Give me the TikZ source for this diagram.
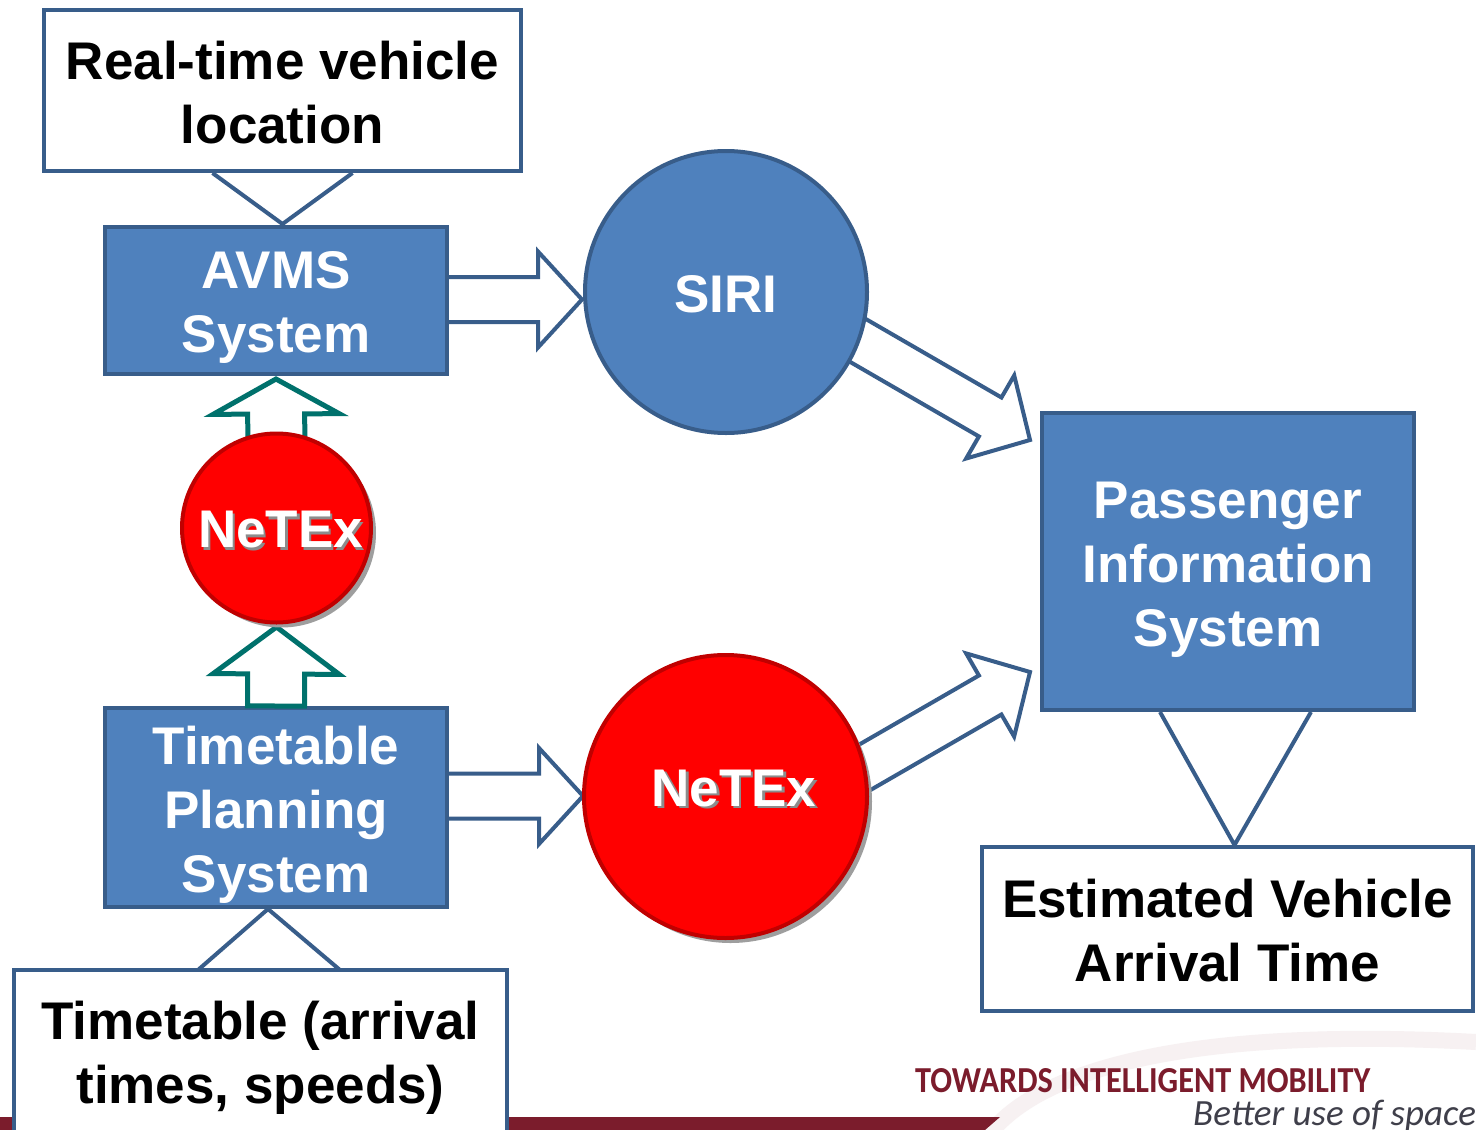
\documentclass[tikz,border=0pt]{standalone}
\usepackage{fontspec}
\setmainfont{Liberation Sans}
\newfontfamily\logofont{Carlito}
\usetikzlibrary{calc,shadows}
\definecolor{boxblue}{HTML}{4F81BD}
\definecolor{edgeblue}{HTML}{385D8A}
\definecolor{netred}{HTML}{FF0000}
\definecolor{netedge}{HTML}{C00000}
\definecolor{tealc}{HTML}{00716C}
\definecolor{logored}{HTML}{7B1C2C}
\definecolor{logogray}{HTML}{3F3F4A}
% style, from, to, half shaft, half head, head length
\newcommand{\blockarrow}[6]{%
  \coordinate (bah) at ($(#3)!#6!(#2)$);
  \draw[#1] ($(#2)!#4!90:(#3)$) -- ($(bah)!#4!90:(#3)$) -- ($(bah)!#5!90:(#3)$) -- (#3)
    -- ($(bah)!#5!-90:(#3)$) -- ($(bah)!#4!-90:(#3)$) -- ($(#2)!#4!-90:(#3)$) -- cycle;}
\tikzset{
  bluebox/.style={draw=edgeblue, fill=boxblue, line width=4pt, inner sep=0, rectangle},
  whitebox/.style={draw=edgeblue, fill=white, line width=4pt, inner sep=0, rectangle},
  txt/.style={font=\bfseries\fontsize{53}{64}\selectfont, align=center, inner sep=0},
  wtxt/.style={txt, text=white},
  btxt/.style={txt, text=black},
  shtxt/.style={txt, text=black!45},
  sirinode/.style={circle, draw=edgeblue, fill=boxblue, line width=4pt, inner sep=0},
  netnode/.style={circle, draw=netedge, fill=netred, line width=4pt, inner sep=0,
    drop shadow={shadow xshift=5pt, shadow yshift=-5pt, fill=black!38, opacity=1}},
  bluearrow/.style={draw=edgeblue, fill=white, line width=4pt, line join=miter},
  tealarrow/.style={draw=tealc, fill=white, line width=5pt, line join=miter},
  calloutline/.style={draw=edgeblue, line width=4pt},
}
\begin{document}
\begin{tikzpicture}[x=1pt, y=-1pt]
\useasboundingbox (0,0) rectangle (1476,1130);
\fill[white] (0,0) rectangle (1476,1130);
% faint logo arc in the background
\draw[line width=16pt, color=logored!6] (985,1140) .. controls (1040,1060) and (1220,1028) .. (1476,1042);
% bottom band
\fill[logored] (0,1117) -- (1000,1117) -- (985,1130) -- (0,1130) -- cycle;

% nodes (boxes and circles), placed first so that connectors can refer to them
\path
  node[whitebox, minimum width=477, minimum height=161] (rt) at (282.5,90.5) {}
  node[bluebox, minimum width=342, minimum height=147] (avms) at (276,300.5) {}
  node[bluebox, minimum width=342, minimum height=199] (tps) at (276,807.5) {}
  node[bluebox, minimum width=372, minimum height=297] (pis) at (1228,561.5) {}
  node[whitebox, minimum width=491, minimum height=164] (est) at (1227.5,929) {}
  node[whitebox, minimum width=493, minimum height=176] (tt) at (260.5,1058) {};

% connector end points
\coordinate (a1s) at ($(avms.east)+(-20,-1)$);
\coordinate (a1t) at ($(avms.east)+(133,-1)$);
\coordinate (a2s) at (820,318.5);
\coordinate (a2t) at ($(pis.west)+(-10,-121.5)$);
\coordinate (a3s) at (822,792);
\coordinate (a3t) at ($(pis.west)+(-10,110.5)$);
\coordinate (a4s) at ($(tps.east)+(-20,-11.5)$);
\coordinate (a4t) at ($(tps.east)+(134,-11.5)$);
\coordinate (a5s) at (276.5,470);
\coordinate (a5t) at ($(avms.south)+(0,3)$);
\coordinate (a6s) at (tps.north);
\coordinate (a6t) at (276.5,627);

% callout lines
\draw[calloutline] ($(rt.south)+(-70,0)$) -- ($(rt.south |- avms.north)+(0,-1)$) -- ($(rt.south)+(70,0)$);
\draw[calloutline] ($(tps.south)+(-78,61)$) -- ($(tps.south)+(-8,0)$) -- ($(tps.south)+(64,61)$);
\draw[calloutline] ($(pis.south)+(-68,0)$) -- ($(est.north)+(7,0)$) -- ($(pis.south)+(83,0)$);

% blue block arrows
\blockarrow{bluearrow}{a1s}{a1t}{22.5pt}{48pt}{44pt}
\blockarrow{bluearrow}{a4s}{a4t}{22.5pt}{48pt}{44pt}
\blockarrow{bluearrow}{a2s}{a2t}{22.5pt}{48pt}{46pt}
\blockarrow{bluearrow}{a3s}{a3t}{22.5pt}{48pt}{46pt}

% redraw boxes on top of arrow tails
\path
  node[whitebox, minimum width=477, minimum height=161] (rt2) at (rt) {}
  node[bluebox, minimum width=342, minimum height=147] (avms2) at (avms) {}
  node[bluebox, minimum width=342, minimum height=199] (tps2) at (tps) {}
  node[bluebox, minimum width=372, minimum height=297] (pis2) at (pis) {}
  node[whitebox, minimum width=491, minimum height=164] (est2) at (est) {}
  node[whitebox, minimum width=493, minimum height=176] (tt2) at (tt) {};

% teal up arrows
\blockarrow{tealarrow}{a5s}{a5t}{28.5pt}{63pt}{35pt}
\blockarrow{tealarrow}{a6s}{a6t}{28.5pt}{63pt}{47pt}

% circles
\node[sirinode, minimum size=282] (siri) at (726,292) {};
\node[netnode, minimum size=189] (net1) at (276.5,528) {};
\node[netnode, minimum size=283] (net2) at (725.5,796.5) {};

% texts
\node[btxt] (rtt) at ($(rt.center)+(0,2)$) {Real-time vehicle\\location};
\node[wtxt] (avmst) at ($(avms.center)+(0,6.5)$) {AVMS\\System};
\node[wtxt] (tpst) at ($(tps.center)+(0,7.5)$) {Timetable\\Planning\\System};
\node[wtxt] (pist) at ($(pis.center)+(0,8.5)$) {Passenger\\Information\\System};
\node[btxt] (estt) at ($(est.center)+(0,2)$) {Estimated Vehicle\\Arrival Time};
\node[btxt] (ttt) at (260.5,1058) {Timetable (arrival\\times, speeds)};
\node[wtxt] (sirit) at ($(siri.center)+(0,2.5)$) {SIRI};
\node[shtxt] (n1sh) at ($(net1.center)+(6.5,4.5)$) {NeTEx};
\node[wtxt] (n1t) at ($(net1.center)+(4,2)$) {NeTEx};
\node[shtxt] (n2sh) at ($(net2.center)+(11,-5.5)$) {NeTEx};
\node[wtxt] (n2t) at ($(net2.center)+(8.5,-8)$) {NeTEx};

% logo texts
\node[anchor=base west, inner sep=0, text=logored] (logo1) at (915,1092)
  {\resizebox{455pt}{24pt}{\logofont\bfseries TOWARDS INTELLIGENT MOBILITY}};
\node[anchor=base west, inner sep=0, text=logogray, font=\logofont\itshape\fontsize{37}{40}\selectfont] (logo2) at (1193,1125) {Better use of space};
\end{tikzpicture}
\end{document}
